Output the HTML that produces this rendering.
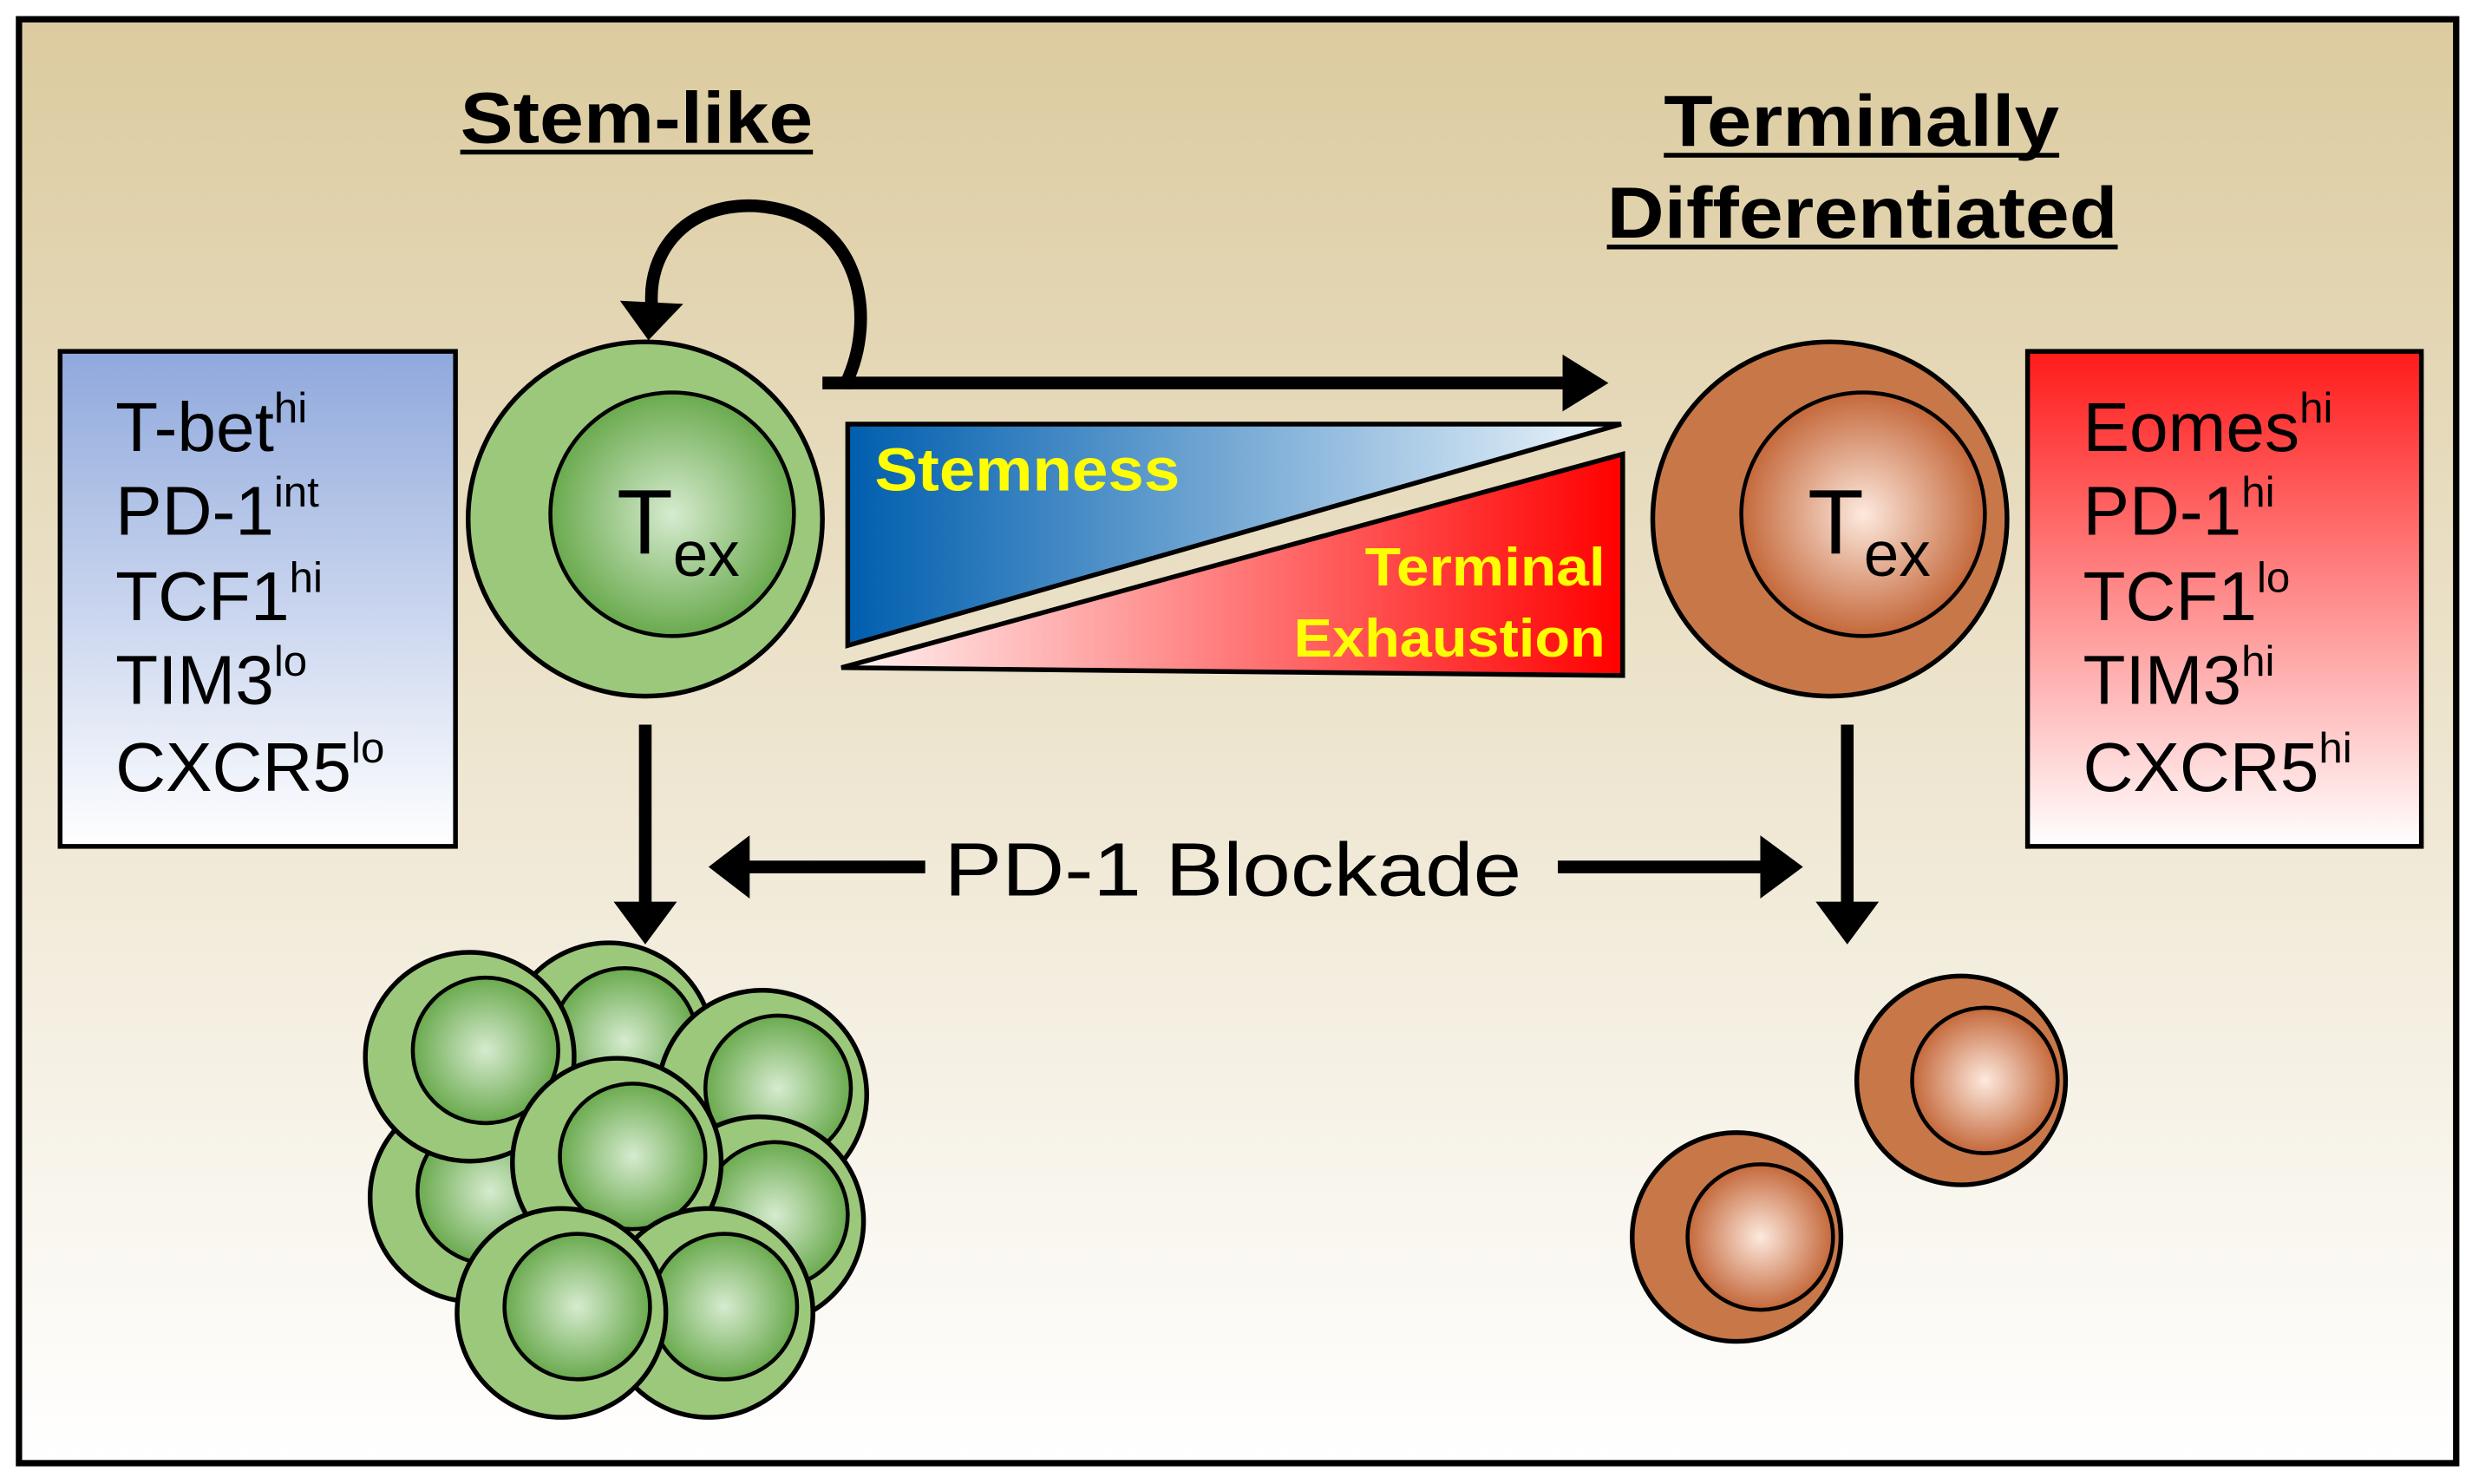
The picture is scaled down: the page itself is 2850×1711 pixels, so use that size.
<!DOCTYPE html>
<html><head><meta charset="utf-8"><style>html,body{margin:0;padding:0;background:#fff}svg{display:block}</style></head>
<body>
<svg width="2850" height="1711" viewBox="0 0 1563 938" xmlns="http://www.w3.org/2000/svg" font-family="Liberation Sans, Arial, sans-serif">
<defs>
<linearGradient id="bg" x1="0" y1="0" x2="0" y2="1"><stop offset="0" stop-color="#dccb9f"/><stop offset="1" stop-color="#ffffff"/></linearGradient>
<linearGradient id="bl" x1="0" y1="0" x2="0" y2="1"><stop offset="0" stop-color="#8fa8dc"/><stop offset="1" stop-color="#ffffff"/></linearGradient>
<linearGradient id="rd" x1="0" y1="0" x2="0" y2="1"><stop offset="0" stop-color="#ff1a1a"/><stop offset="1" stop-color="#ffffff"/></linearGradient>
<linearGradient id="tb" x1="0" y1="0" x2="1" y2="0"><stop offset="0" stop-color="#005eae"/><stop offset="1" stop-color="#eef6fc"/></linearGradient>
<linearGradient id="tr" x1="0" y1="0" x2="1" y2="0"><stop offset="0" stop-color="#fff4f4"/><stop offset="1" stop-color="#ff0000"/></linearGradient>
<radialGradient id="gi"><stop offset="0" stop-color="#d6ebcf"/><stop offset="1" stop-color="#6aaa4e"/></radialGradient>
<radialGradient id="oi"><stop offset="0" stop-color="#fde9de"/><stop offset="1" stop-color="#c4683a"/></radialGradient>
<g id="gc"><circle r="66" fill="#9cc87c" stroke="#000" stroke-width="3"/><circle cx="10" cy="-4" r="46" fill="url(#gi)" stroke="#000" stroke-width="2.5"/></g>
<g id="oc"><circle r="66" fill="#c87848" stroke="#000" stroke-width="3"/><circle cx="15" cy="0" r="46" fill="url(#oi)" stroke="#000" stroke-width="2.5"/></g>
</defs>
<rect x="12" y="12" width="1541" height="913" fill="url(#bg)" stroke="#000" stroke-width="4"/>
<text x="291" y="90" font-size="46" font-weight="bold" textLength="223" lengthAdjust="spacingAndGlyphs">Stem-like</text>
<line x1="291" y1="96" x2="514" y2="96" stroke="#000" stroke-width="3"/>
<text x="1052" y="92" font-size="46" font-weight="bold" textLength="250" lengthAdjust="spacingAndGlyphs">Terminally</text>
<line x1="1052" y1="98" x2="1302" y2="98" stroke="#000" stroke-width="3"/>
<text x="1016" y="150" font-size="46" font-weight="bold" textLength="323" lengthAdjust="spacingAndGlyphs">Differentiated</text>
<line x1="1016" y1="156" x2="1339" y2="156" stroke="#000" stroke-width="3"/>
<rect x="38" y="222" width="250" height="313" fill="url(#bl)" stroke="#000" stroke-width="3"/>
<g font-size="44"><text x="73" y="285">T-bet<tspan font-size="27" dy="-18">hi</tspan></text>
<text x="73" y="338">PD-1<tspan font-size="27" dy="-18">int</tspan></text>
<text x="73" y="392">TCF1<tspan font-size="27" dy="-18">hi</tspan></text>
<text x="73" y="445">TIM3<tspan font-size="27" dy="-18">lo</tspan></text>
<text x="73" y="500">CXCR5<tspan font-size="27" dy="-18">lo</tspan></text></g>
<rect x="1282" y="222" width="249" height="313" fill="url(#rd)" stroke="#000" stroke-width="3"/>
<g font-size="44"><text x="1317" y="285">Eomes<tspan font-size="27" dy="-18">hi</tspan></text>
<text x="1317" y="338">PD-1<tspan font-size="27" dy="-18">hi</tspan></text>
<text x="1317" y="392">TCF1<tspan font-size="27" dy="-18">lo</tspan></text>
<text x="1317" y="445">TIM3<tspan font-size="27" dy="-18">hi</tspan></text>
<text x="1317" y="500">CXCR5<tspan font-size="27" dy="-18">hi</tspan></text></g>
<circle cx="408" cy="328" r="112" fill="#9cc87c" stroke="#000" stroke-width="3"/>
<circle cx="425" cy="325" r="77" fill="url(#gi)" stroke="#000" stroke-width="2.5"/>
<text x="390" y="350" font-size="58">T<tspan font-size="40" dy="14">ex</tspan></text>
<circle cx="1157" cy="328" r="112" fill="#c87848" stroke="#000" stroke-width="3"/>
<circle cx="1178" cy="325" r="77" fill="url(#oi)" stroke="#000" stroke-width="2.5"/>
<text x="1143" y="350" font-size="58">T<tspan font-size="40" dy="14">ex</tspan></text>
<path d="M520,242 L535,242 C555,200 545,135 478,130 C432,128 410,160 412,192" fill="none" stroke="#000" stroke-width="8"/>
<polygon points="392,190 432,192 410,215" fill="#000"/>
<line x1="535" y1="242" x2="988" y2="242" stroke="#000" stroke-width="8"/>
<polygon points="988,224 1017,242 988,260" fill="#000"/>
<polygon points="536,268 1025,268 536,408" fill="url(#tb)" stroke="#000" stroke-width="3"/>
<polygon points="1026,287 1026,427 532,422" fill="url(#tr)" stroke="#000" stroke-width="3"/>
<text x="553" y="310" font-size="38" font-weight="bold" fill="#ffff00" textLength="193" lengthAdjust="spacingAndGlyphs">Stemness</text>
<text x="863" y="370" font-size="34" font-weight="bold" fill="#ffff00" textLength="152" lengthAdjust="spacingAndGlyphs">Terminal</text>
<text x="818" y="415" font-size="34" font-weight="bold" fill="#ffff00" textLength="197" lengthAdjust="spacingAndGlyphs">Exhaustion</text>
<line x1="408" y1="458" x2="408" y2="572" stroke="#000" stroke-width="8"/>
<polygon points="388,570 428,570 408,597" fill="#000"/>
<line x1="1168" y1="458" x2="1168" y2="572" stroke="#000" stroke-width="8"/>
<polygon points="1148,570 1188,570 1168,597" fill="#000"/>
<text x="597" y="566" font-size="48" textLength="365" lengthAdjust="spacingAndGlyphs">PD-1 Blockade</text>
<line x1="585" y1="548" x2="472" y2="548" stroke="#000" stroke-width="8"/>
<polygon points="474,528 448,548 474,568" fill="#000"/>
<line x1="985" y1="548" x2="1115" y2="548" stroke="#000" stroke-width="8"/>
<polygon points="1113,528 1140,548 1113,568" fill="#000"/>
<use href="#gc" x="385" y="662"/>
<use href="#gc" x="482" y="692"/>
<use href="#gc" x="300" y="757"/>
<use href="#gc" x="297" y="668"/>
<use href="#gc" x="480" y="772"/>
<use href="#gc" x="390" y="735"/>
<use href="#gc" x="448" y="830"/>
<use href="#gc" x="355" y="830"/>
<use href="#oc" x="1240" y="683"/>
<use href="#oc" x="1098" y="782"/>
</svg>
</body></html>
